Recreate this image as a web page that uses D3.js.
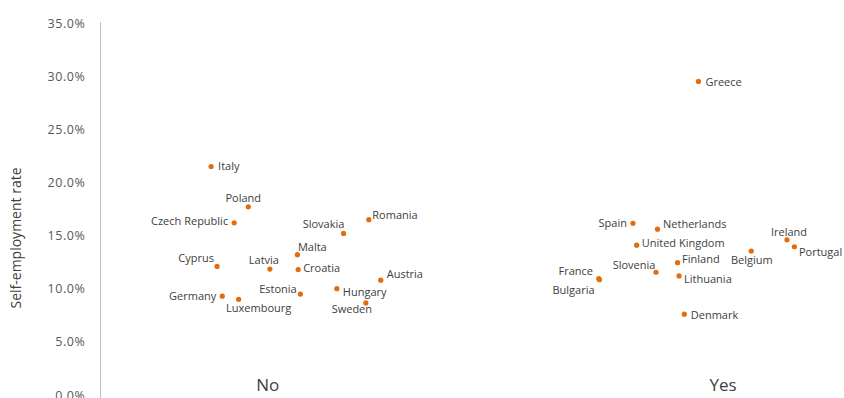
<!DOCTYPE html>
<html>
<head>
<meta charset="utf-8">
<script src="https://cdn.jsdelivr.net/npm/d3@7"></script>
<style>
  html, body { margin: 0; padding: 0; background: #fff; }
  svg { display: block; font-family: "Open Sans", sans-serif; }
</style>
</head>
<body>
<svg id="chart" width="844" height="398"></svg>
<script>
// ---- data ----
const countries = ["Italy","Poland","Czech Republic","Slovakia","Romania","Malta","Cyprus","Latvia","Croatia","Austria","Estonia","Hungary","Sweden","Germany","Luxembourg",
  "Greece","Spain","Netherlands","United Kingdom","Ireland","Portugal","Belgium","Finland","Slovenia","Lithuania","France","Bulgaria","Denmark"];
const groups = ["No","No","No","No","No","No","No","No","No","No","No","No","No","No","No",
  "Yes","Yes","Yes","Yes","Yes","Yes","Yes","Yes","Yes","Yes","Yes","Yes","Yes"];
const xValues = [1.48,1.98,1.79,3.26,3.60,2.64,1.56,2.27,2.65,3.76,2.68,3.17,3.56,1.63,1.85,
  8.03,7.15,7.48,7.20,9.22,9.32,8.74,7.75,7.46,7.77,6.69,6.70,7.84];
const rates = [21.5,17.7,16.2,15.2,16.5,13.2,12.1,11.85,11.8,10.8,9.5,10.0,8.66,9.3,9.0,
  29.5,16.15,15.6,14.1,14.6,13.95,13.55,12.45,11.55,11.2,10.95,10.85,7.6];
const categoryLabels = ["No","Yes"];
const categoryX = [2.24,8.36];
const yTicks = [0,5,10,15,20,25,30,35];
const yTitle = "Self-employment rate";

// ---- label placement (layout) ----
const labelPlacement = {
  "Italy":[7,0,"start"], "Poland":[-5,-9,"middle"], "Czech Republic":[-6,-2,"end"],
  "Slovakia":[-20,-9,"middle"], "Romania":[3.5,-4.5,"start"], "Malta":[0.5,-7.5,"start"],
  "Cyprus":[-21,-8.5,"middle"], "Latvia":[-6,-8.5,"middle"], "Croatia":[5,-1,"start"],
  "Austria":[6,-6.5,"start"], "Estonia":[-22.5,-4.5,"middle"], "Hungary":[6,3.5,"start"],
  "Sweden":[-14,6.5,"middle"], "Germany":[-6,0,"end"], "Luxembourg":[20,9,"middle"],
  "Greece":[7,0.5,"start"], "Spain":[-6,0,"end"], "Netherlands":[5.5,-5,"start"],
  "United Kingdom":[5,-2,"start"], "Ireland":[2,-7.5,"middle"], "Portugal":[4.5,5,"start"],
  "Belgium":[0.5,9.5,"middle"], "Finland":[4.5,-3.5,"start"], "Slovenia":[-22,-7,"middle"],
  "Lithuania":[5,3,"start"], "France":[-23,-7.5,"middle"], "Bulgaria":[-26,10,"middle"],
  "Denmark":[6.5,0.5,"start"]
};

const svg = d3.select("#chart");
const x = d3.scaleLinear().domain([0,10]).range([101,845]);
const y = d3.scaleLinear().domain([0,35]).range([395,23]);

// y axis
const yAxis = d3.axisLeft(y).tickValues(yTicks).tickSize(0).tickPadding(15)
  .tickFormat(d => d.toFixed(1) + "%");
const gy = svg.append("g").attr("transform","translate(100.5,0)").call(yAxis);
gy.select(".domain").remove();
gy.selectAll("text").attr("fill","#595959").style("font-size","12.5px")
  .style("letter-spacing","0.6px")
  .style("font-family","'Open Sans', sans-serif");
svg.append("line").attr("x1",100.5).attr("x2",100.5).attr("y1",y(35)-1).attr("y2",398)
  .attr("stroke","#bfbfbf").attr("stroke-width",1);

// y title
svg.append("text").attr("transform","translate(21,238) rotate(-90)")
  .attr("text-anchor","middle").attr("fill","#404040").style("font-size","14px")
  .text(yTitle);

// category labels
svg.selectAll(".cat").data(categoryLabels).enter().append("text")
  .attr("x",(d,i)=>x(categoryX[i])).attr("y",391)
  .attr("text-anchor","middle").attr("fill","#404040").style("font-size","17px")
  .text(d=>d);

// points
const pts = countries.map((c,i)=>({c, g:groups[i], xv:xValues[i], v:rates[i]}));
svg.selectAll(".dot").data(pts).enter().append("circle")
  .attr("cx",d=>x(d.xv)).attr("cy",d=>y(d.v)).attr("r",2.6)
  .attr("fill","#E46C0A");

// labels
svg.selectAll(".lab").data(pts).enter().append("text")
  .attr("x",d=>x(d.xv)+labelPlacement[d.c][0])
  .attr("y",d=>y(d.v)+labelPlacement[d.c][1])
  .attr("dy","0.35em")
  .attr("text-anchor",d=>labelPlacement[d.c][2])
  .attr("fill","#404040").style("font-size","11px")
  .text(d=>d.c);
</script>
</body>
</html>
